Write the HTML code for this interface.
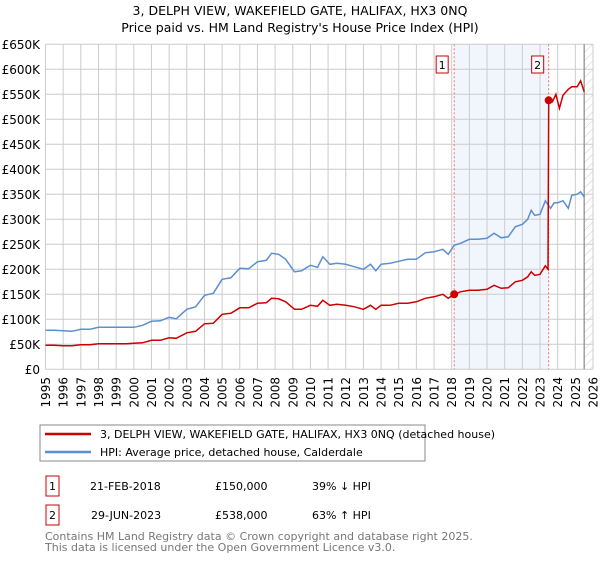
<!DOCTYPE html>
<html><head><meta charset="utf-8"><style>
body{margin:0;background:#fff;font-family:"Liberation Sans","DejaVu Sans",sans-serif;}
svg text{font-family:"DejaVu Sans","Liberation Sans",sans-serif;}
</style></head><body>
<svg width="600" height="560" viewBox="0 0 600 560">
<defs><pattern id="hatch" width="6" height="6" patternUnits="userSpaceOnUse" patternTransform="rotate(45)"><line x1="0" y1="0" x2="0" y2="6" stroke="#ccc" stroke-width="1"/></pattern></defs>
<text x="300" y="15" text-anchor="middle" font-size="12.5">3, DELPH VIEW, WAKEFIELD GATE, HALIFAX, HX3 0NQ</text>
<text x="300" y="32" text-anchor="middle" font-size="12.5">Price paid vs. HM Land Registry's House Price Index (HPI)</text>
<g id="plot"></g>
<rect x="40" y="425" width="385" height="36" fill="#fff" stroke="#888"/>
<line x1="45" y1="434" x2="91" y2="434" stroke="#cc0000" stroke-width="2.5"/>
<text x="100" y="438" font-size="11">3, DELPH VIEW, WAKEFIELD GATE, HALIFAX, HX3 0NQ (detached house)</text>
<line x1="45" y1="452" x2="91" y2="452" stroke="#5b8fd0" stroke-width="2.5"/>
<text x="100" y="456" font-size="11">HPI: Average price, detached house, Calderdale</text>
<rect x="46" y="476" width="13" height="20" fill="#fff" stroke="#cc0000"/>
<text x="52.5" y="490" font-size="11" text-anchor="middle">1</text>
<text x="90" y="490" font-size="11">21-FEB-2018</text>
<text x="215" y="490" font-size="11">£150,000</text>
<text x="312" y="490" font-size="11">39% ↓ HPI</text>
<rect x="46" y="505" width="13" height="20" fill="#fff" stroke="#cc0000"/>
<text x="52.5" y="519" font-size="11" text-anchor="middle">2</text>
<text x="91" y="519" font-size="11">29-JUN-2023</text>
<text x="215" y="519" font-size="11">£538,000</text>
<text x="312" y="519" font-size="11">63% ↑ HPI</text>
<text x="45" y="540" font-size="11" fill="#777">Contains HM Land Registry data © Crown copyright and database right 2025.</text>
<text x="45" y="551" font-size="11" fill="#777">This data is licensed under the Open Government Licence v3.0.</text>
</svg>
<script>
const hpiYears=[1995,1995.5,1996,1996.5,1997,1997.5,1998,1998.5,1999,1999.5,2000,2000.5,2001,2001.5,2002,2002.4,2003,2003.5,2004,2004.5,2005,2005.5,2006,2006.5,2007,2007.5,2007.8,2008.2,2008.6,2009.1,2009.5,2010,2010.4,2010.7,2011.1,2011.5,2012,2012.5,2013,2013.4,2013.7,2014,2014.5,2015,2015.5,2016,2016.5,2017,2017.5,2017.8,2018.14,2018.5,2019,2019.5,2020,2020.4,2020.8,2021.2,2021.6,2022,2022.3,2022.5,2022.7,2023,2023.3,2023.6,2023.8,2024,2024.3,2024.6,2024.8,2025.1,2025.3,2025.5];
const hpiValues=[78,78,77,76,80,80,84,84,84,84,84,88,96,97,104,101,120,125,148,152,180,183,202,201,215,218,232,230,220,195,197,208,204,225,210,212,210,205,200,210,197,210,212,216,220,220,233,235,240,230,248,252,260,260,262,272,263,265,285,290,300,318,308,310,337,322,333,333,337,322,348,350,355,345];
const redYears=[1995,1995.5,1996,1996.5,1997,1997.5,1998,1998.5,1999,1999.5,2000,2000.5,2001,2001.5,2002,2002.4,2003,2003.5,2004,2004.5,2005,2005.5,2006,2006.5,2007,2007.5,2007.8,2008.2,2008.6,2009.1,2009.5,2010,2010.4,2010.7,2011.1,2011.5,2012,2012.5,2013,2013.4,2013.7,2014,2014.5,2015,2015.5,2016,2016.5,2017,2017.5,2017.8,2018.14,2018.5,2019,2019.5,2020,2020.4,2020.8,2021.2,2021.6,2022,2022.3,2022.5,2022.7,2023,2023.3,2023.45,2023.49,2023.7,2023.9,2024.1,2024.3,2024.6,2024.8,2025.1,2025.3,2025.5];
const redValues=[48,48,47,47,49,49,51,51,51,51,52,53,58,58,63,62,73,76,91,92,110,112,123,123,132,133,142,141,135,120,120,128,126,138,128,130,128,125,120,128,120,128,128,132,132,135,142,145,150,142,150,155,158,158,160,168,162,163,175,178,185,195,188,190,207,200,538,535,550,522,548,560,565,565,577,555];
const sales=[{yr:2018.14,v:150},{yr:2023.49,v:538}];
const yTicks=[0,50,100,150,200,250,300,350,400,450,500,550,600,650];
const xTicks=[1995,1996,1997,1998,1999,2000,2001,2002,2003,2004,2005,2006,2007,2008,2009,2010,2011,2012,2013,2014,2015,2016,2017,2018,2019,2020,2021,2022,2023,2024,2025,2026];
const NS='http://www.w3.org/2000/svg';
const X0=45.5,X1=593,Y0=369.3,Y1=44.3;
const xs=yr=>X0+(yr-1995)/31*(X1-X0);
const ys=v=>Y0-v/650*(Y0-Y1);
const g=document.getElementById('plot');
function mk(t,a){const e=document.createElementNS(NS,t);for(const k in a)e.setAttribute(k,a[k]);g.appendChild(e);return e;}
let e=mk('rect',{x:X0,y:Y1,width:X1-X0,height:Y0-Y1,fill:'#fff'});


e=mk('rect',{x:xs(sales[0].yr),y:Y1,width:xs(sales[1].yr)-xs(sales[0].yr),height:Y0-Y1,fill:'#eef3fc',opacity:0.8});


e=mk('rect',{x:xs(2025.5),y:Y1,width:X1-xs(2025.5),height:Y0-Y1,fill:'url(#hatch)'});


yTicks.forEach(v=>{
 let l=mk('line',{x1:X0,x2:X1,y1:ys(v),y2:ys(v),stroke:'#ccc'});
 
 
 let t=mk('text',{x:40,y:ys(v)+4.5,'text-anchor':'end','font-size':'12'});
 t.textContent=v===0?'£0':'£'+v+'K';
 
 
});
xTicks.forEach(yr=>{
 let l=mk('line',{x1:xs(yr),x2:xs(yr),y1:Y1,y2:Y0,stroke:'#ccc'});
 
 
 const tx=xs(yr)+4.5,ty=377;
 let t=mk('text',{x:tx,y:ty,'text-anchor':'end','font-size':'12',transform:'rotate(-90 '+tx+' '+ty+')'});
 t.textContent=yr;
 
 
});
e=mk('line',{x1:xs(2025.5),x2:xs(2025.5),y1:Y1,y2:Y0,stroke:'#888','stroke-width':1.2});


sales.forEach((s,i)=>{
 let l=mk('line',{x1:xs(s.yr),x2:xs(s.yr),y1:Y1,y2:Y0,stroke:'#f07070','stroke-dasharray':'2,2'});
 
 
 let bx=xs(s.yr)-(i===0?12:11)-6;
 let r=mk('rect',{x:bx,y:56,width:12,height:17,fill:'#fff',stroke:'#cc0000'});
 
 
 let t=mk('text',{x:bx+6,y:69,'text-anchor':'middle','font-size':'11'});
 t.textContent=i+1;
 
 
});
const pts=(xa,va)=>xa.map((y,i)=>xs(y).toFixed(1)+','+ys(va[i]).toFixed(1)).join(' ');
e=mk('polyline',{points:pts(hpiYears,hpiValues),fill:'none',stroke:'#5b8fd0','stroke-width':1.5});


e=mk('polyline',{points:pts(redYears,redValues),fill:'none',stroke:'#cc0000','stroke-width':1.5});


sales.forEach(s=>{
 let c=mk('circle',{cx:xs(s.yr),cy:ys(s.v),r:4,fill:'#cc0000'});
 
 
});
</script>
</body></html>
